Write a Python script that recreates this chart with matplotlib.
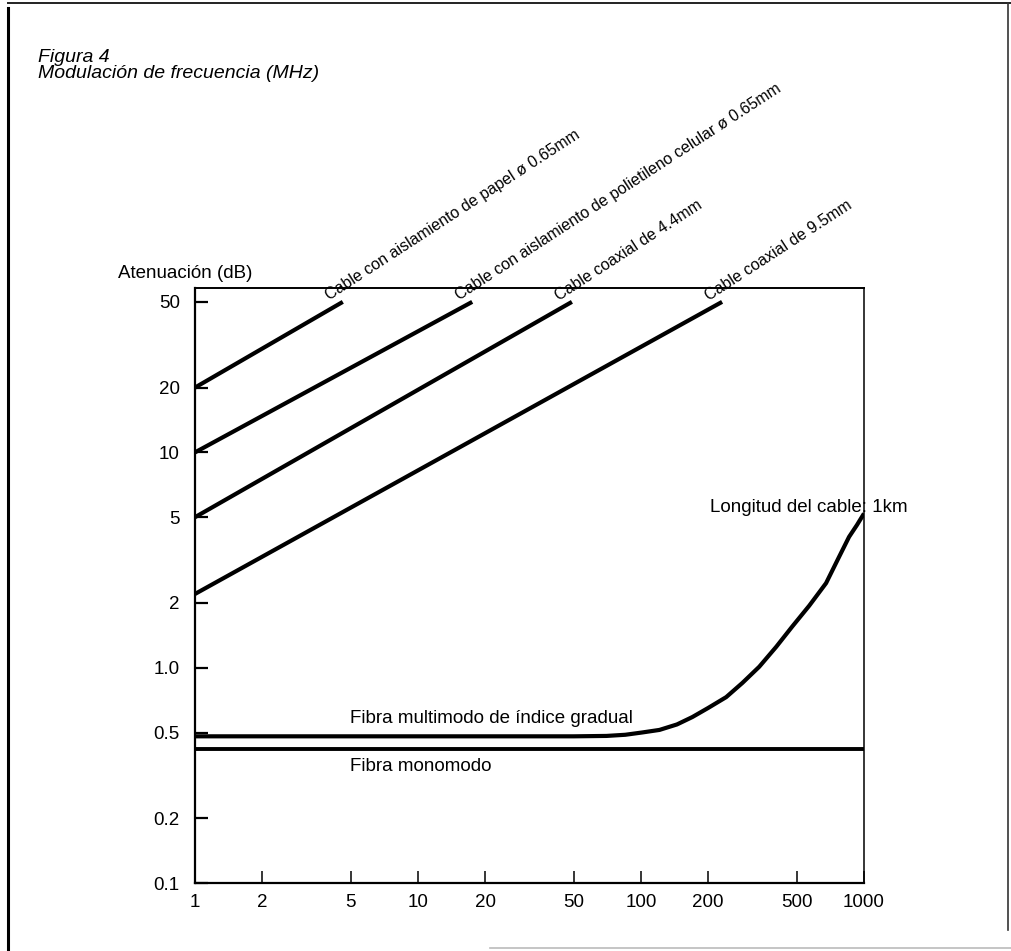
import matplotlib
matplotlib.use("Agg")
import matplotlib.pyplot as plt
from matplotlib.lines import Line2D

plt.rcParams['font.family'] = ['Liberation Sans', 'DejaVu Sans']

# ---- data ----
x_ticks = [1, 2, 5, 10, 20, 50, 100, 200, 500, 1000]
x_tick_labels = ['1', '2', '5', '10', '20', '50', '100', '200', '500', '1000']
y_ticks = [0.1, 0.2, 0.5, 1, 2, 5, 10, 20, 50]
y_tick_labels = ['0.1', '0.2', '0.5', '1.0', '2', '5', '10', '20', '50']

cable_names = [
    'Cable con aislamiento de papel ø 0.65mm',
    'Cable con aislamiento de polietileno celular ø 0.65mm',
    'Cable coaxial de 4.4mm',
    'Cable coaxial de 9.5mm',
]
cable_start_mhz = [1, 1, 1, 1]
cable_start_db = [20, 10, 5, 2.2]
cable_end_mhz = [4.6, 17.5, 49, 231]
cable_end_db = [50, 50, 50, 50]

multimode_mhz = [1, 50, 70, 85, 101, 121, 145, 170, 200, 241, 285, 339, 404, 476,
                 568, 676, 773, 857, 930, 1000]
multimode_db = [0.48, 0.48, 0.482, 0.488, 0.50, 0.514, 0.545, 0.59, 0.65, 0.73, 0.85,
                1.01, 1.25, 1.55, 1.94, 2.47, 3.27, 4.05, 4.6, 5.2]

monomode_mhz = [1, 1000]
monomode_db = [0.42, 0.42]

W, H = 1011, 951


def fx(px):
    return px / W


def fy(py):
    return 1 - py / H


fig = plt.figure(figsize=(W / 100, H / 100), dpi=100)
fig.patch.set_facecolor('white')

ax_left, ax_right, ax_top, ax_bottom = 195, 864, 288, 883
ax = fig.add_axes([fx(ax_left), fy(ax_bottom), (ax_right - ax_left) / W, (ax_bottom - ax_top) / H])
ax.set_xscale('log')
ax.set_yscale('log')
ax.set_xlim(1, 1000)
ax.set_ylim(0.1, 58)

for side, lw in (('left', 1.6), ('bottom', 1.6), ('top', 1.4), ('right', 1.1)):
    ax.spines[side].set_linewidth(lw)
    ax.spines[side].set_color('black')

ax.set_xticks(x_ticks)
ax.set_xticklabels(x_tick_labels)
ax.set_yticks(y_ticks)
ax.set_yticklabels(y_tick_labels)
ax.minorticks_off()
ax.tick_params(axis='x', direction='in', length=9, width=1.1, pad=8, labelsize=13.5)
ax.tick_params(axis='y', direction='in', length=9, width=1.6, pad=11, labelsize=13.5)

# copper cables: straight lines on log-log axes
for x0, y0, x1, y1, name in zip(cable_start_mhz, cable_start_db, cable_end_mhz, cable_end_db, cable_names):
    ax.plot([x0, x1], [y0, y1], color='black', lw=3.0, solid_capstyle='butt', clip_on=False)
    ax.annotate(name, xy=(x1, y1), xytext=(-13, 1), textcoords='offset pixels',
                rotation=33, rotation_mode='anchor', ha='left', va='baseline',
                fontsize=11.5, annotation_clip=False)

# optical fibres
ax.plot(multimode_mhz, multimode_db, color='black', lw=3.0, solid_capstyle='butt',
        solid_joinstyle='round')
ax.plot(monomode_mhz, monomode_db, color='black', lw=2.8, solid_capstyle='butt')

fig.text(fx(350), fy(723), 'Fibra multimodo de índice gradual', fontsize=13.5, va='baseline', ha='left')
fig.text(fx(350), fy(771), 'Fibra monomodo', fontsize=13.5, va='baseline', ha='left')
fig.text(fx(710), fy(512), 'Longitud del cable: 1km', fontsize=13.5, va='baseline', ha='left')

# axis caption and figure title
fig.text(fx(118), fy(278), 'Atenuación (dB)', fontsize=13.5, va='baseline', ha='left')
fig.text(fx(38), fy(62), 'Figura 4', fontsize=14, style='italic', va='baseline', ha='left')
fig.text(fx(38), fy(78), 'Modulación de frecuencia (MHz)', fontsize=14, style='italic',
         va='baseline', ha='left')

# page frame
fig.add_artist(Line2D([fx(8), fx(8)], [fy(8), fy(951)], color='black', lw=2.2))
fig.add_artist(Line2D([fx(8), fx(1011)], [fy(3), fy(3)], color='#222222', lw=1.4))
fig.add_artist(Line2D([fx(1008), fx(1008)], [fy(3), fy(930)], color='#333333', lw=1.2))
fig.add_artist(Line2D([fx(490), fx(1011)], [fy(948), fy(948)], color='#bbbbbb', lw=1.2))

fig.savefig('out.png', dpi=100)
